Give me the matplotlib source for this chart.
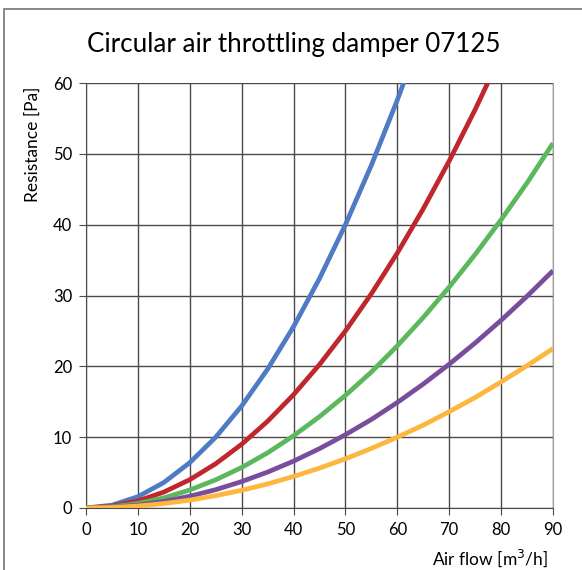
import matplotlib
matplotlib.use("Agg")
import matplotlib.pyplot as plt
from matplotlib.patches import Rectangle

plt.rcParams['font.family'] = ['Lato', 'DejaVu Sans']

# air flow [m3/h] and resistance [Pa] for each damper setting
flow = [0, 5, 10, 15, 20, 25, 30, 35, 40, 45, 50, 55, 60, 65, 70, 75, 80, 85, 90]
blue = [0, 0.4, 1.6, 3.6, 6.4, 10, 14.4, 19.6, 25.6, 32.4, 40, 48.4, 57.6, 67.6]
red = [0, 0.25, 1, 2.25, 4, 6.25, 9, 12.25, 16, 20.25, 25, 30.25, 36, 42.25, 49, 56.25, 64]
green = [0, 0.16, 0.64, 1.43, 2.54, 3.98, 5.72, 7.79, 10.2, 12.9, 15.9, 19.2, 22.9, 26.9, 31.2, 35.8, 40.7, 45.9, 51.5]
purple = [0, 0.10, 0.41, 0.93, 1.66, 2.59, 3.73, 5.07, 6.62, 8.38, 10.35, 12.5, 14.9, 17.5, 20.3, 23.3, 26.5, 29.9, 33.5]
orange = [0, 0.07, 0.28, 0.63, 1.11, 1.74, 2.5, 3.4, 4.45, 5.63, 6.95, 8.41, 10.0, 11.7, 13.6, 15.6, 17.8, 20.1, 22.5]

series = [(blue, '#4f7bc4'), (red, '#c0272d'), (green, '#5cb85c'),
          (purple, '#7a4d9c'), (orange, '#fdb73e')]

fig = plt.figure(figsize=(5.82, 5.70), dpi=100)
# chart frame, open past the right and bottom edges
fig.patches.append(Rectangle((4 / 582, -0.1), 1.2, (570 - 9) / 570 + 0.1,
                             transform=fig.transFigure, fill=False,
                             edgecolor='#7f7f7f', linewidth=1.3))

ax = fig.add_axes([86 / 582, 62 / 570, 467 / 582, 425 / 570])
for vals, col in series:
    ax.plot(flow[:len(vals)], vals, color=col, linewidth=3.4,
            solid_capstyle='butt', solid_joinstyle='round', zorder=3)

ax.set_xlim(0, 90)
ax.set_ylim(0, 60)
ax.set_xticks(range(0, 91, 10))
ax.set_yticks(range(0, 61, 10))
ax.grid(True, color='#4a4a4a', linewidth=1.0)
ax.spines['top'].set_visible(False)
ax.spines['right'].set_color('#a0a0a0')
for side in ['left', 'bottom']:
    ax.spines[side].set_color('#4a4a4a')
ax.tick_params(length=5, color='#4a4a4a', labelsize=12, pad=5)

fig.text(0.505, 0.922, 'Circular air throttling damper 07125',
         ha='center', va='center', fontsize=18.7)
fig.text(33 / 582, 0.746, 'Resistance [Pa]', rotation=90,
         ha='center', va='center', fontsize=12.5)
fig.text(548 / 582, 12 / 570, 'Air flow [m$^3$/h]', ha='right', va='center',
         fontsize=12.5)

fig.savefig('out.png')
